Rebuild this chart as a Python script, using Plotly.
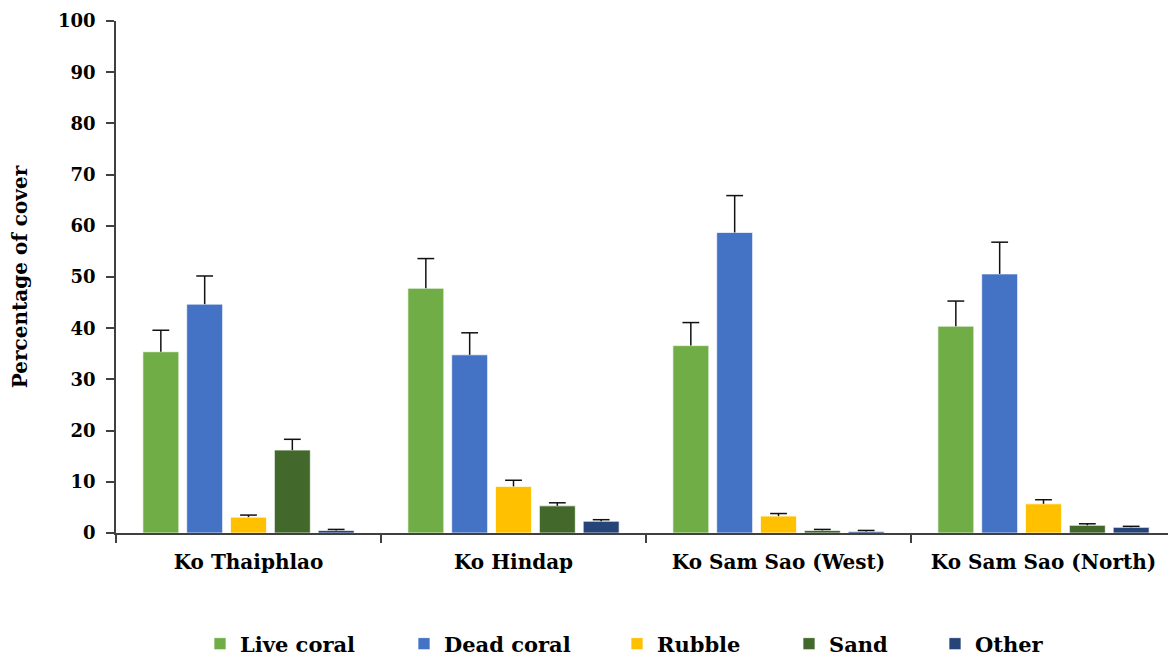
import plotly.graph_objects as go

sites = ["Ko Thaiphlao", "Ko Hindap", "Ko Sam Sao (West)", "Ko Sam Sao (North)"]
series = ["Live coral", "Dead coral", "Rubble", "Sand", "Other"]
live_coral = [35.4, 47.8, 36.6, 40.4]
dead_coral = [44.7, 34.8, 58.7, 50.6]
rubble = [3.1, 9.1, 3.3, 5.7]
sand = [16.2, 5.3, 0.5, 1.5]
other = [0.5, 2.3, 0.3, 1.1]
live_coral_err = [4.2, 5.8, 4.5, 4.9]
dead_coral_err = [5.5, 4.3, 7.2, 6.2]
rubble_err = [0.4, 1.2, 0.5, 0.8]
sand_err = [2.1, 0.6, 0.2, 0.3]
other_err = [0.2, 0.3, 0.2, 0.2]
colors = ["#70AD47", "#4472C4", "#FFC000", "#43682B", "#264478"]

values = [live_coral, dead_coral, rubble, sand, other]
errors = [live_coral_err, dead_coral_err, rubble_err, sand_err, other_err]

FONT = "DejaVu Serif"
OFF = 8  # page body margin offset
W, H = 1176 - OFF, 656 - OFF
L, R, T = 116 - OFF, 0, 21 - OFF
B = H - (533 - OFF)
pw = W - L - R
ph = H - T - B
GAP = 0.173

legend_left_px = [200, 404, 617, 789, 935]  # screen px
legend_mid_px = 644
legend_names = ["legend", "legend2", "legend3", "legend4", "legend5"]

fig = go.Figure()
for i, name in enumerate(series):
    fig.add_trace(go.Bar(
        name=name, x=sites, y=values[i],
        marker=dict(color=colors[i], line=dict(color="rgba(255,255,255,0.7)", width=1)),
        legend=legend_names[i],
    ))
# upper error bars: cap marker at the top, whisker drawn down to the bar top
for i, name in enumerate(series):
    tops = [v + e for v, e in zip(values[i], errors[i])]
    fig.add_trace(go.Scatter(
        x=sites, y=tops, mode="markers", showlegend=False, hoverinfo="skip",
        marker=dict(symbol="line-ew", size=12, color="#111111",
                    line=dict(color="#111111", width=1.5)),
        error_y=dict(type="data", symmetric=False, array=[0] * len(sites),
                     arrayminus=errors[i], color="#111111", thickness=1.5, width=0),
    ))

layout_legends = {}
for i, ln in enumerate(legend_names):
    layout_legends[ln] = dict(
        x=(legend_left_px[i] - OFF - L) / pw, xanchor="left",
        y=-(legend_mid_px - OFF - (T + ph)) / ph, yanchor="middle",
        orientation="h", bgcolor="rgba(0,0,0,0)",
        font=dict(family=FONT, size=21, color="black", weight="bold"),
    )

fig.update_layout(
    width=W, height=H,
    margin=dict(l=L, r=R, t=T, b=B, autoexpand=False),
    paper_bgcolor="white", plot_bgcolor="white",
    font=dict(family=FONT, color="black"),
    barmode="group", bargap=GAP, bargroupgap=0.18,
    scattermode="group", scattergap=GAP,
    showlegend=True,
    **layout_legends,
)

fig.update_xaxes(
    type="category", showline=True, linecolor="#404040", linewidth=1.5,
    ticks="outside", tickson="boundaries", ticklen=8, tickcolor="#404040",
    tickwidth=1.5, showgrid=False, automargin=False,
    tickfont=dict(family=FONT, size=20, color="black", weight="bold"),
    ticklabelstandoff=10,
)
fig.update_yaxes(
    range=[0, 100], dtick=10,
    showline=True, linecolor="#404040", linewidth=1.5,
    ticks="outside", ticklen=8, tickcolor="#404040", tickwidth=1.5,
    showgrid=False, zeroline=False,
    tickfont=dict(family=FONT, size=18, color="black", weight="bold"),
    ticklabelstandoff=7,
    title=dict(text="Percentage of cover", standoff=29,
               font=dict(family=FONT, size=20, color="black", weight="bold")),
    automargin=False,
)

fig.write_html("out.html")
